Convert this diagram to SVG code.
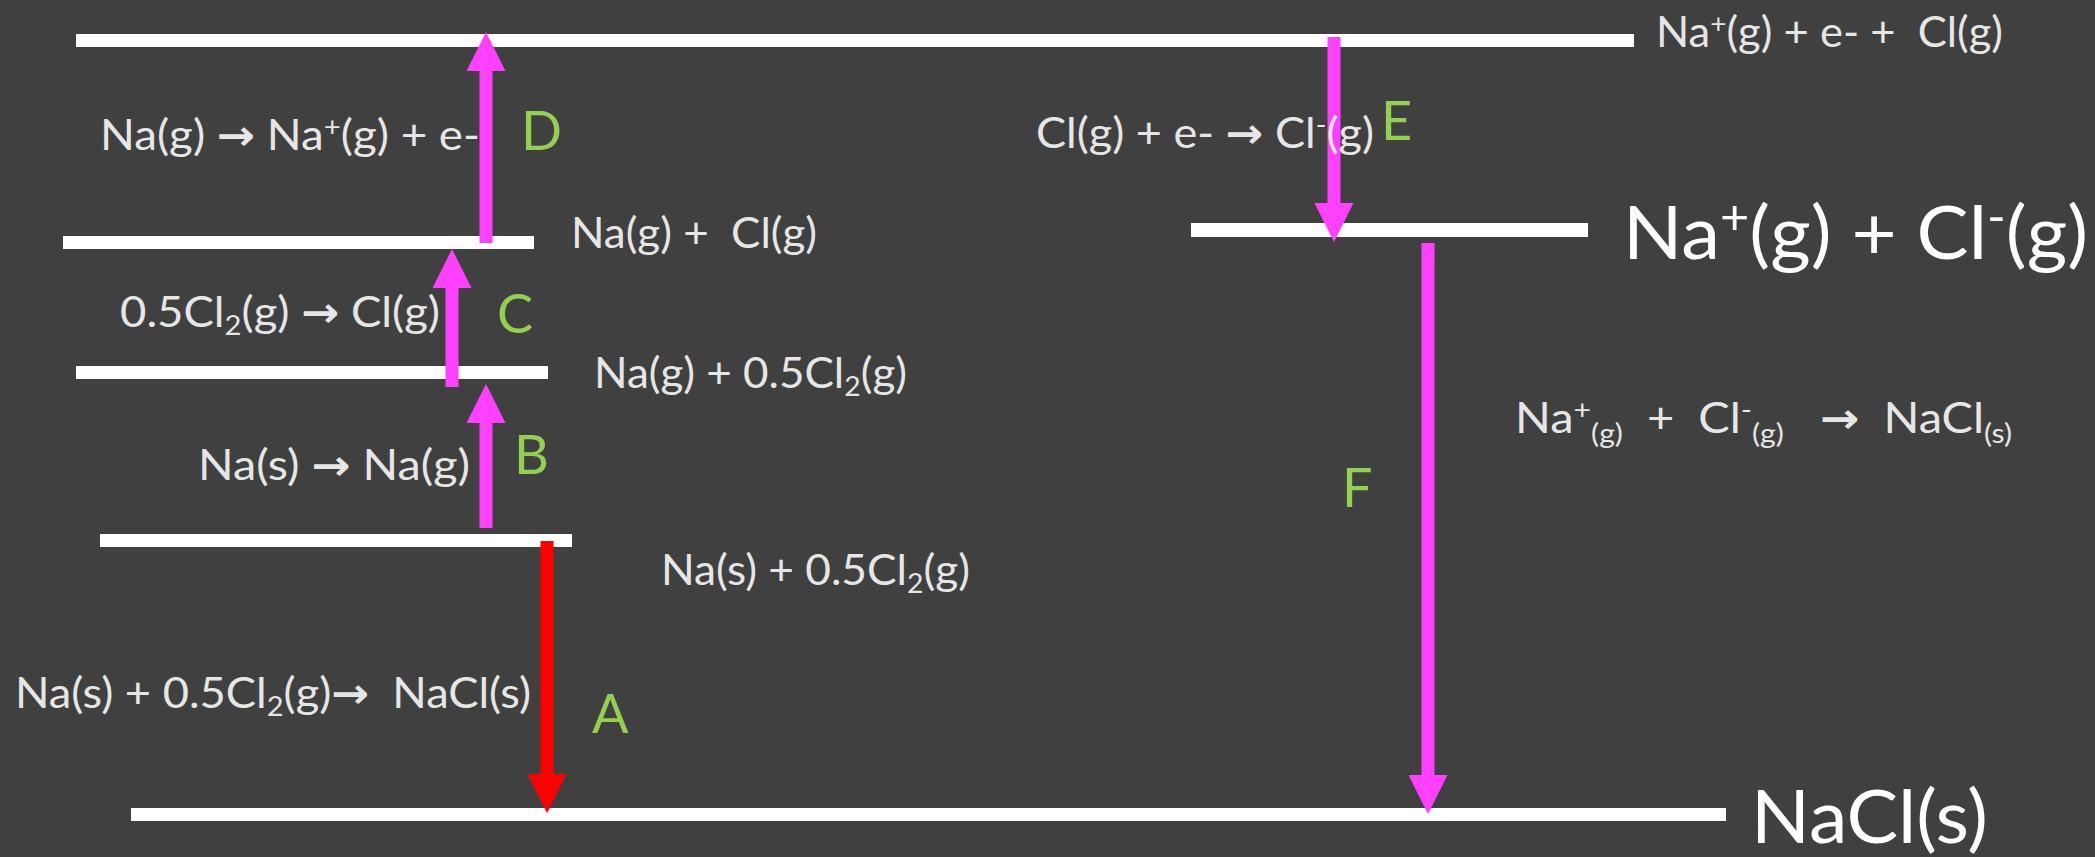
<svg xmlns="http://www.w3.org/2000/svg" width="2095" height="857" viewBox="0 0 2095 857">
<style>
  .bg{fill:#404040}
  .lvl{fill:#FFFFFF}
  .t{font-family:Lato,"Open Sans","Liberation Sans",sans-serif;font-size:42px;fill:#E6E6E6;white-space:pre}
  .big{font-family:Lato,"Open Sans","Liberation Sans",sans-serif;font-size:74px;fill:#FFFFFF;white-space:pre}
  .lab{font-family:Lato,"Open Sans","Liberation Sans",sans-serif;font-size:54px;fill:#92D050}
  .sm{font-size:27px}
  .ar{font-family:"DejaVu Sans",sans-serif;font-weight:bold}
  .arr{stroke:#FF40FF;stroke-width:13;fill:none}
  .red{stroke:#FF0000}
</style>
<defs>
  <marker id="hm" viewBox="0 0 10 10" refX="0" refY="5" markerWidth="3" markerHeight="3" orient="auto" markerUnits="strokeWidth">
    <path d="M0,0 L10,5 L0,10 Z" fill="#FF40FF"/>
  </marker>
  <marker id="hr" viewBox="0 0 10 10" refX="0" refY="5" markerWidth="3" markerHeight="3" orient="auto" markerUnits="strokeWidth">
    <path d="M0,0 L10,5 L0,10 Z" fill="#FF0000"/>
  </marker>
</defs>
<rect class="bg" x="0" y="0" width="2095" height="857"/>

<g id="level-top">
  <rect class="lvl" x="76" y="34" width="1558" height="13"/>
  <text class="t" x="1656" y="47" textLength="347" lengthAdjust="spacingAndGlyphs">Na<tspan class="sm" dy="-14">+</tspan><tspan dy="14">(g) + e- +  Cl(g)</tspan></text>
</g>
<g id="level-na-g-cl-g">
  <rect class="lvl" x="63" y="236" width="471" height="13"/>
  <text class="t" x="571" y="248" textLength="246" lengthAdjust="spacingAndGlyphs">Na(g) +  Cl(g)</text>
</g>
<g id="level-na-g-cl2">
  <rect class="lvl" x="76" y="366" width="472" height="13"/>
  <text class="t" x="594" y="388" textLength="313" lengthAdjust="spacingAndGlyphs">Na(g) + 0.5Cl<tspan class="sm" dy="8">2</tspan><tspan dy="-8">(g)</tspan></text>
</g>
<g id="level-na-s-cl2">
  <rect class="lvl" x="100" y="534" width="472" height="13"/>
  <text class="t" x="661" y="585" textLength="309" lengthAdjust="spacingAndGlyphs">Na(s) + 0.5Cl<tspan class="sm" dy="8">2</tspan><tspan dy="-8">(g)</tspan></text>
</g>
<g id="level-ions">
  <rect class="lvl" x="1191" y="223" width="397" height="14"/>
  <text class="big" x="1623" y="259" textLength="465" lengthAdjust="spacingAndGlyphs">Na<tspan font-size="48" dy="-25">+</tspan><tspan dy="25">(g) + Cl</tspan><tspan font-size="48" dy="-25">-</tspan><tspan dy="25">(g)</tspan></text>
</g>
<g id="level-nacl">
  <rect class="lvl" x="131" y="808" width="1595" height="13"/>
  <text class="big" x="1751" y="843" textLength="237" lengthAdjust="spacingAndGlyphs">NaCl(s)</text>
</g>

<g id="connectors">
  <line id="arrow-A" class="arr red" x1="547" y1="541" x2="547" y2="774" marker-end="url(#hr)"/>
  <line id="arrow-B" class="arr" x1="486" y1="528" x2="486" y2="423" marker-end="url(#hm)"/>
  <line id="arrow-C" class="arr" x1="452" y1="387" x2="452" y2="288" marker-end="url(#hm)"/>
  <line id="arrow-D" class="arr" x1="486" y1="243" x2="486" y2="71" marker-end="url(#hm)"/>
  <line id="arrow-E" class="arr" x1="1334" y1="37" x2="1334" y2="203" marker-end="url(#hm)"/>
  <line id="arrow-F" class="arr" x1="1428" y1="243" x2="1428" y2="775" marker-end="url(#hm)"/>
</g>

<g id="step-D">
  <text class="t" x="100" y="150" textLength="380" lengthAdjust="spacingAndGlyphs">Na(g) <tspan class="ar">→</tspan> Na<tspan class="sm" dy="-14">+</tspan><tspan dy="14">(g) + e-</tspan></text>
  <text class="lab" x="521" y="150">D</text>
</g>
<g id="step-C">
  <text class="t" x="120" y="327" textLength="320" lengthAdjust="spacingAndGlyphs">0.5Cl<tspan class="sm" dy="8">2</tspan><tspan dy="-8">(g) </tspan><tspan class="ar">→</tspan> Cl(g)</text>
  <text class="lab" x="497" y="333">C</text>
</g>
<g id="step-B">
  <text class="t" x="198" y="480" textLength="272" lengthAdjust="spacingAndGlyphs">Na(s) <tspan class="ar">→</tspan> Na(g)</text>
  <text class="lab" x="514" y="474">B</text>
</g>
<g id="step-A">
  <text class="t" x="15" y="708" textLength="516" lengthAdjust="spacingAndGlyphs">Na(s) + 0.5Cl<tspan class="sm" dy="8">2</tspan><tspan dy="-8">(g)</tspan><tspan class="ar">→</tspan>  NaCl(s)</text>
  <text class="lab" x="592" y="733" font-size="66">A</text>
</g>
<g id="step-E">
  <text class="t" x="1036" y="148" textLength="338" lengthAdjust="spacingAndGlyphs">Cl(g) + e- <tspan class="ar">→</tspan> Cl<tspan class="sm" dy="-14">-</tspan><tspan dy="14">(g)</tspan></text>
  <text class="lab" x="1381" y="140">E</text>
</g>
<g id="step-F">
  <text class="t" x="1515" y="433" textLength="497" lengthAdjust="spacingAndGlyphs">Na<tspan class="sm" dy="-14">+</tspan><tspan class="sm" dy="24">(g)</tspan><tspan dy="-10">  +  Cl</tspan><tspan class="sm" dy="-14">-</tspan><tspan class="sm" dy="24">(g)</tspan><tspan dy="-10">   </tspan><tspan class="ar">→</tspan>  NaCl<tspan class="sm" dy="10">(s)</tspan></text>
  <text class="lab" x="1342" y="507">F</text>
</g>
</svg>
